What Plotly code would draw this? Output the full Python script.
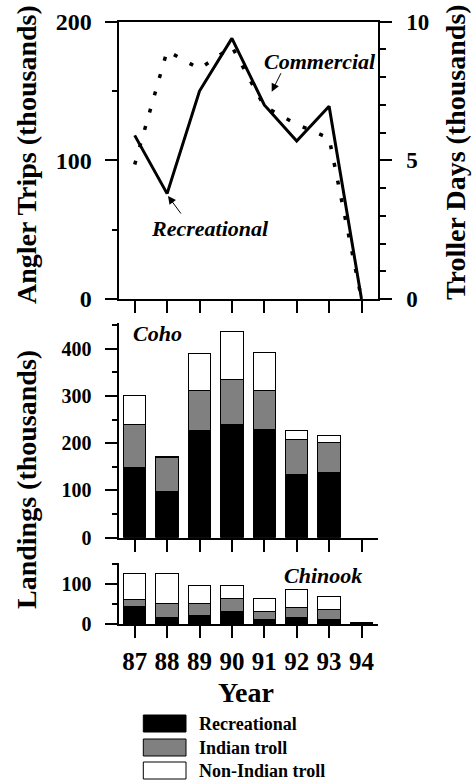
import plotly.graph_objects as go

# ---------------- data ----------------
years = [87, 88, 89, 90, 91, 92, 93, 94]
year_labels = ["87", "88", "89", "90", "91", "92", "93", "94"]

angler_trips = [118, 76, 150, 188, 140, 114, 139, 0]          # thousands (left axis)
troller_days = [4.85, 8.95, 8.3, 9.1, 6.95, 6.3, 5.8, 0]      # thousands (right axis)

coho_rec = [148, 97, 226, 240, 230, 133, 139, None]
coho_indian = [91, 72, 85, 96, 81, 74, 62, None]
coho_nonindian = [62, 2, 79, 101, 81, 20, 16, None]

chinook_rec = [44, 18, 21, 32, 11, 18, 13, 1]
chinook_indian = [19, 34, 31, 32, 22, 24, 25, 2]
chinook_nonindian = [64, 75, 44, 34, 31, 46, 32, 2]

series_names = ["Recreational", "Indian troll", "Non-Indian troll"]
series_colors = ["#000000", "#808080", "#ffffff"]

W, H = 474, 783
FONT = "Liberation Serif, Times New Roman, serif"


def px(x):
    return x / W


def py(y):
    return 1 - y / H


fig = go.Figure()

# ---------------- top panel: effort lines ----------------
fig.add_trace(go.Scatter(x=years, y=angler_trips, mode="lines",
                         line=dict(color="black", width=3),
                         xaxis="x", yaxis="y", showlegend=False, name="Recreational"))
fig.add_trace(go.Scatter(x=years, y=troller_days, mode="lines",
                         line=dict(color="black", width=3.5, dash="4px,14px"),
                         xaxis="x", yaxis="y2", showlegend=False, name="Commercial"))

# ---------------- bars ----------------
coho = [coho_rec, coho_indian, coho_nonindian]
chin = [chinook_rec, chinook_indian, chinook_nonindian]
for name, col, vals in zip(series_names, series_colors, coho):
    fig.add_trace(go.Bar(x=years, y=vals, name=name, marker=dict(color=col, line=dict(color="black", width=1)),
                         width=0.69, xaxis="x2", yaxis="y3", showlegend=False))
for name, col, vals in zip(series_names, series_colors, chin):
    fig.add_trace(go.Bar(x=years, y=vals, name=name, marker=dict(color=col, line=dict(color="black", width=1)),
                         width=0.69, xaxis="x3", yaxis="y4", showlegend=False))

xdom = [px(118.5), px(377.7)]
tickfont_big = dict(family=FONT, size=24, color="black", weight="bold")
tickfont_mid = dict(family=FONT, size=20, color="black", weight="bold")

common_x = dict(range=[86.5, 94.5], tickmode="array", tickvals=years, ticks="outside",
                ticklen=12, tickwidth=1.5, tickcolor="black", showline=True, linecolor="black",
                linewidth=2, showgrid=False, zeroline=False, domain=xdom, automargin=False)

fig.update_layout(
    width=W, height=H,
    margin=dict(l=0, r=0, t=0, b=0, pad=0, autoexpand=False),
    paper_bgcolor="white", plot_bgcolor="white",
    barmode="stack", bargap=0.3,
    font=dict(family=FONT, color="black"),
    xaxis=dict(**common_x, showticklabels=False, anchor="y", mirror=True),
    yaxis=dict(domain=[py(299), py(21.7)], range=[0, 200], tickvals=[0, 100, 200],
               ticks="outside", ticklen=12, tickwidth=1.5, tickcolor="black",
               showline=True, linecolor="black", linewidth=2, showgrid=False, zeroline=False,
               tickfont=tickfont_big, ticklabelstandoff=8, anchor="x", automargin=False,
               minor=dict(tickvals=[50, 150], ticks="outside", ticklen=5, tickwidth=1.5, tickcolor="black")),
    yaxis2=dict(overlaying="y", side="right", range=[0, 10], tickvals=[0, 5, 10],
                ticks="outside", ticklen=12, tickwidth=1.5, tickcolor="black",
                showline=True, linecolor="black", linewidth=2, showgrid=False, zeroline=False,
                tickfont=dict(family=FONT, size=23, color="black", weight="bold"),
                ticklabelstandoff=10, anchor="x", automargin=False,
                minor=dict(tickvals=[1, 2, 3, 4, 6, 7, 8, 9], ticks="outside", ticklen=6,
                           tickwidth=1.5, tickcolor="black")),
    xaxis2=dict(**common_x, showticklabels=False, anchor="y3"),
    yaxis3=dict(domain=[py(537.7), py(323.3)], range=[0, 454], tickvals=[0, 100, 200, 300, 400],
                ticks="outside", ticklen=12, tickwidth=1.5, tickcolor="black",
                showline=True, linecolor="black", linewidth=2, showgrid=False, zeroline=False,
                tickfont=tickfont_mid, ticklabelstandoff=9, anchor="x2", automargin=False,
                minor=dict(tickvals=[50, 150, 250, 350, 450], ticks="outside", ticklen=5,
                           tickwidth=1.5, tickcolor="black")),
    xaxis3=dict(**common_x, ticktext=year_labels, showticklabels=True, anchor="y4",
                tickfont=dict(family=FONT, size=25, color="black", weight="bold"),
                ticklabelstandoff=2),
    yaxis4=dict(domain=[py(624.3), py(563.3)], range=[0, 152.5], tickvals=[0, 100],
                ticks="outside", ticklen=12, tickwidth=1.5, tickcolor="black",
                showline=True, linecolor="black", linewidth=2, showgrid=False, zeroline=False,
                tickfont=tickfont_mid, ticklabelstandoff=9, anchor="x3", automargin=False,
                minor=dict(tickvals=[50, 150], ticks="outside", ticklen=5,
                           tickwidth=1.5, tickcolor="black")),
)

ann = []
title_font = dict(family=FONT, size=28, color="black", weight="bold")
lab_font = dict(family=FONT, size=22, color="black", weight="bold", style="italic")


def text_ann(text, x, y, font, angle=0):
    ann.append(dict(text=text, x=px(x), y=py(y), xref="paper", yref="paper",
                    showarrow=False, font=font, textangle=angle,
                    xanchor="center", yanchor="middle"))


text_ann("Angler Trips (thousands)", 27, 155, title_font, -90)
text_ann("Troller Days (thousands)", 456, 152, title_font, -90)
text_ann("Landings (thousands)", 27, 480, title_font, -90)
text_ann("Year", 246, 692, title_font)
text_ann("Commercial", 320, 61, lab_font)
text_ann("Recreational", 209.5, 228, lab_font)
text_ann("Coho", 157.5, 333, lab_font)
text_ann("Chinook", 323, 575, lab_font)

# arrows
ann.append(dict(text="", x=px(271.7), y=py(91.7), xref="paper", yref="paper",
                showarrow=True, ax=10, ay=-20, arrowhead=2, arrowsize=1.6, arrowwidth=1, arrowcolor="black"))
ann.append(dict(text="", x=px(168), y=py(196), xref="paper", yref="paper",
                showarrow=True, ax=14, ay=19, arrowhead=2, arrowsize=1.6, arrowwidth=1, arrowcolor="black"))

# legend (drawn manually)
shapes = []
rows = [(715, 732), (739, 756), (762, 779)]
for (y0, y1), name, col in zip(rows, series_names, series_colors):
    shapes.append(dict(type="rect", xref="paper", yref="paper", x0=px(143.3), x1=px(186),
                       y0=py(y1), y1=py(y0), fillcolor=col, line=dict(color="black", width=1)))
    ann.append(dict(text=name, x=px(196.5), y=py((y0 + y1) / 2), xref="paper", yref="paper",
                    showarrow=False, xanchor="left", yanchor="middle",
                    font=dict(family=FONT, size=18, color="black", weight="bold")))

fig.update_layout(annotations=ann, shapes=shapes)

fig.write_html("out.html", config={"displayModeBar": False},
               post_script="document.body.style.margin='0';document.body.style.padding='0';"
                           "document.body.style.overflow='hidden';")
